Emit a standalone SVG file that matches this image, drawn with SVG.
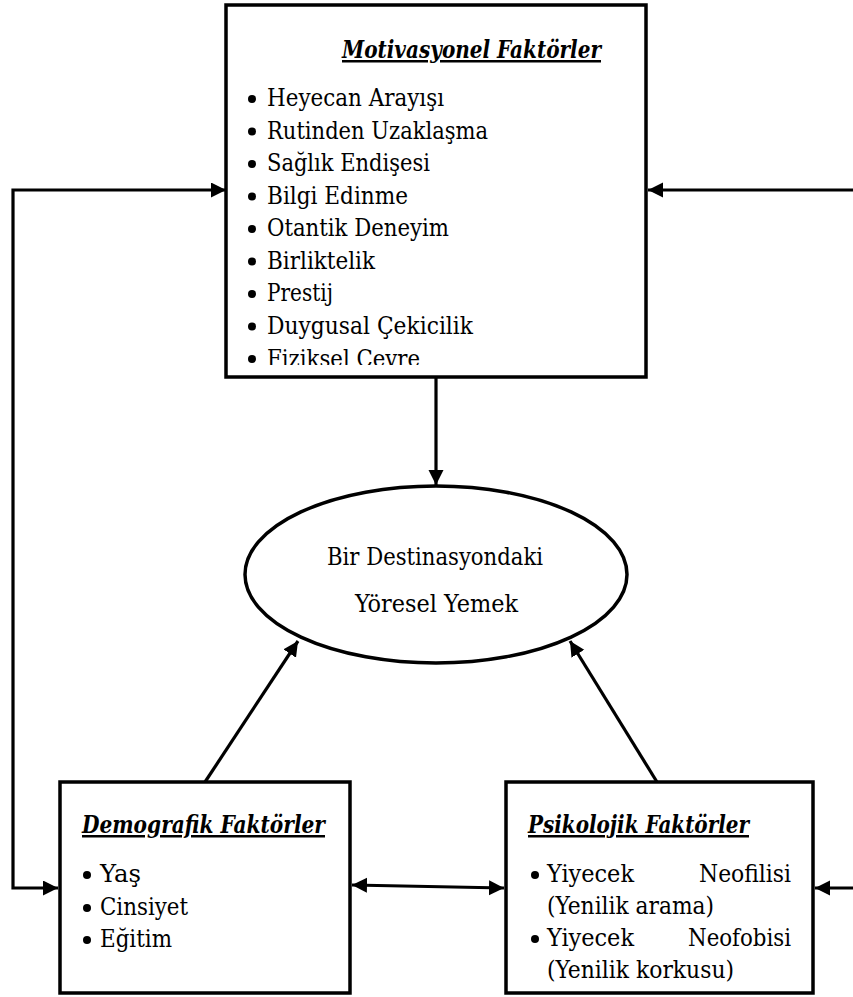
<svg xmlns="http://www.w3.org/2000/svg" width="853" height="997" viewBox="0 0 853 997">
<style>
.box{fill:#fff;stroke:#000;stroke-width:3.5}
.ell{fill:#fff;stroke:#000;stroke-width:3.5}
text{font-family:"DejaVu Serif",serif;font-stretch:condensed;fill:#000}
.title{font-size:25px;font-weight:bold;font-style:italic;text-decoration:underline}
.t{font-size:24px}
.b{fill:#000}
.c{fill:none;stroke:#000;stroke-width:3.2}
</style>
<defs>
<marker id="ah" markerUnits="userSpaceOnUse" markerWidth="16" markerHeight="16" refX="15" refY="7.5" orient="auto-start-reverse">
<path d="M0,0 L15,7.5 L0,15 z" fill="#000"/>
</marker>
<clipPath id="clipTop"><rect x="228" y="7" width="416" height="358"/></clipPath>
</defs>
<g id="connectors">
<polyline class="c" points="226,190 13,190 13,888 58,888" marker-start="url(#ah)" marker-end="url(#ah)"/>
<line class="c" x1="853" y1="190" x2="648" y2="190" marker-end="url(#ah)"/>
<line class="c" x1="853" y1="888" x2="815" y2="888" marker-end="url(#ah)"/>
<line class="c" x1="352" y1="885" x2="504" y2="888" marker-start="url(#ah)" marker-end="url(#ah)"/>
<line class="c" x1="436" y1="377" x2="436" y2="485" marker-end="url(#ah)"/>
<line class="c" x1="205" y1="782" x2="298" y2="641" marker-end="url(#ah)"/>
<line class="c" x1="657" y1="782" x2="570" y2="641" marker-end="url(#ah)"/>
</g>
<g id="motivasyonel">
<rect class="box" x="226" y="5" width="420" height="372"/>
<text class="title" x="342" y="58" textLength="259" lengthAdjust="spacingAndGlyphs">Motivasyonel Faktörler</text>
<g clip-path="url(#clipTop)">
<circle class="b" cx="252" cy="99" r="4"/><text class="t" x="267" y="106" textLength="177" lengthAdjust="spacingAndGlyphs">Heyecan Arayışı</text>
<circle class="b" cx="252" cy="131.5" r="4"/><text class="t" x="267" y="138.5" textLength="221" lengthAdjust="spacingAndGlyphs">Rutinden Uzaklaşma</text>
<circle class="b" cx="252" cy="164" r="4"/><text class="t" x="267" y="171" textLength="163" lengthAdjust="spacingAndGlyphs">Sağlık Endişesi</text>
<circle class="b" cx="252" cy="196.5" r="4"/><text class="t" x="267" y="203.5" textLength="141" lengthAdjust="spacingAndGlyphs">Bilgi Edinme</text>
<circle class="b" cx="252" cy="229" r="4"/><text class="t" x="267" y="236" textLength="182" lengthAdjust="spacingAndGlyphs">Otantik Deneyim</text>
<circle class="b" cx="252" cy="261.5" r="4"/><text class="t" x="267" y="268.5" textLength="108" lengthAdjust="spacingAndGlyphs">Birliktelik</text>
<circle class="b" cx="252" cy="294" r="4"/><text class="t" x="267" y="301" textLength="66" lengthAdjust="spacingAndGlyphs">Prestij</text>
<circle class="b" cx="252" cy="326.5" r="4"/><text class="t" x="267" y="333.5" textLength="206" lengthAdjust="spacingAndGlyphs">Duygusal Çekicilik</text>
<circle class="b" cx="252" cy="359" r="4"/><text class="t" x="267" y="367" textLength="153" lengthAdjust="spacingAndGlyphs">Fiziksel Çevre</text>
</g>
</g>
<g id="yoresel-yemek">
<ellipse class="ell" cx="436" cy="574.5" rx="191" ry="88.5"/>
<text class="t" x="327" y="565" textLength="216" lengthAdjust="spacingAndGlyphs">Bir Destinasyondaki</text>
<text class="t" x="355" y="612" textLength="163" lengthAdjust="spacingAndGlyphs">Yöresel Yemek</text>
</g>
<g id="demografik">
<rect class="box" x="60" y="782" width="290" height="211"/>
<text class="title" x="82" y="833" textLength="243" lengthAdjust="spacingAndGlyphs">Demografik Faktörler</text>
<circle class="b" cx="87" cy="875" r="4"/><text class="t" x="100" y="882" textLength="41" lengthAdjust="spacingAndGlyphs">Yaş</text>
<circle class="b" cx="87" cy="908" r="4"/><text class="t" x="100" y="915" textLength="88" lengthAdjust="spacingAndGlyphs">Cinsiyet</text>
<circle class="b" cx="87" cy="940" r="4"/><text class="t" x="100" y="947" textLength="72" lengthAdjust="spacingAndGlyphs">Eğitim</text>
</g>
<g id="psikolojik">
<rect class="box" x="506" y="782" width="307" height="211"/>
<text class="title" x="528" y="833" textLength="221" lengthAdjust="spacingAndGlyphs">Psikolojik Faktörler</text>
<circle class="b" cx="535" cy="875" r="4"/>
<text class="t" y="882"><tspan x="547" textLength="87" lengthAdjust="spacingAndGlyphs">Yiyecek</tspan> <tspan x="699" textLength="92" lengthAdjust="spacingAndGlyphs">Neofilisi</tspan></text>
<text class="t" x="547" y="914" textLength="167" lengthAdjust="spacingAndGlyphs">(Yenilik arama)</text>
<circle class="b" cx="535" cy="939" r="4"/>
<text class="t" y="946"><tspan x="547" textLength="87" lengthAdjust="spacingAndGlyphs">Yiyecek</tspan> <tspan x="688" textLength="103" lengthAdjust="spacingAndGlyphs">Neofobisi</tspan></text>
<text class="t" x="547" y="978" textLength="187" lengthAdjust="spacingAndGlyphs">(Yenilik korkusu)</text>
</g>
</svg>
